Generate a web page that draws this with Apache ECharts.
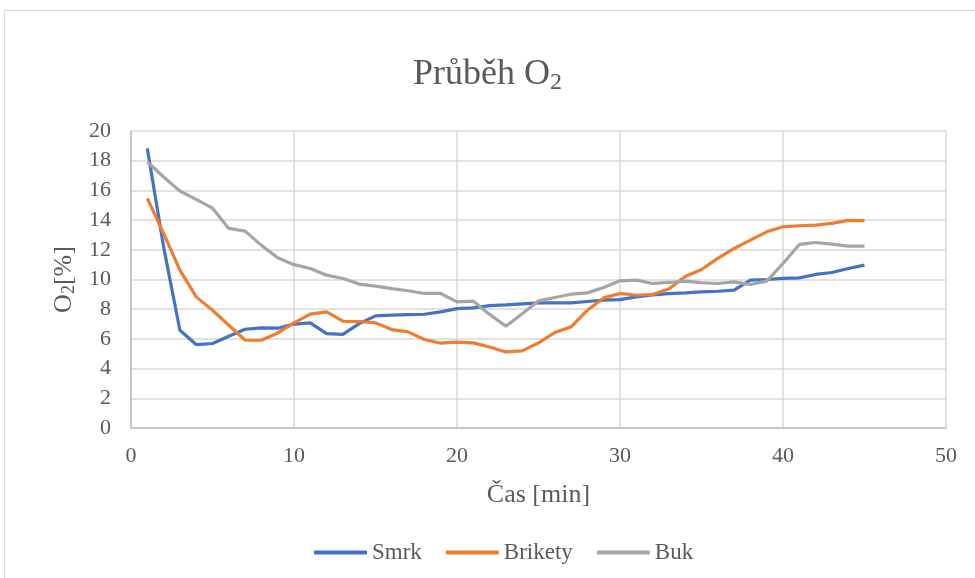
<!DOCTYPE html>
<html>
<head>
<meta charset="utf-8">
<script src="https://cdn.jsdelivr.net/npm/echarts@6/dist/echarts.min.js"></script>
<style>
html,body{margin:0;padding:0;background:#fff;}
#chart{width:975px;height:578px;}
</style>
</head>
<body>
<div id="chart"></div>
<script>
const minutes = [1,2,3,4,5,6,7,8,9,10,11,12,13,14,15,16,17,18,19,20,21,22,23,24,25,26,27,28,29,30,31,32,33,34,35,36,37,38,39,40,41,42,43,44,45];
const smrk = [18.83,12.2,6.58,5.62,5.69,6.18,6.65,6.74,6.72,7.0,7.08,6.36,6.31,7.03,7.55,7.6,7.64,7.66,7.82,8.04,8.09,8.24,8.29,8.36,8.43,8.43,8.43,8.52,8.61,8.65,8.83,8.97,9.05,9.1,9.17,9.21,9.28,9.96,10.0,10.07,10.11,10.34,10.47,10.74,10.97];
const brikety = [15.46,13.1,10.63,8.83,7.93,6.92,5.91,5.91,6.4,7.08,7.67,7.82,7.19,7.17,7.08,6.63,6.47,5.96,5.71,5.78,5.73,5.45,5.12,5.19,5.73,6.43,6.81,7.93,8.76,9.06,8.94,8.99,9.36,10.2,10.67,11.42,12.09,12.65,13.21,13.55,13.62,13.66,13.78,13.98,13.96];
const buk = [17.93,16.9,15.96,15.4,14.8,13.44,13.26,12.3,11.46,11.0,10.74,10.29,10.07,9.69,9.55,9.39,9.24,9.06,9.06,8.49,8.54,7.65,6.85,7.7,8.56,8.79,9.01,9.1,9.46,9.91,9.96,9.73,9.8,9.89,9.78,9.73,9.84,9.66,9.89,11.08,12.36,12.49,12.38,12.25,12.25];
const seriesNames = ['Smrk','Brikety','Buk'];
const xTicks = [0,10,20,30,40,50];
const yTicks = [0,2,4,6,8,10,12,14,16,18,20];

const FONT = '"Liberation Serif","Times New Roman",serif';
const TXT = '#595959';
const pairs = arr => minutes.map((m,i)=>[m,arr[i]]);

const chart = echarts.init(document.getElementById('chart'), null, {renderer:'canvas'});
chart.setOption({
  animation:false,
  backgroundColor:'#ffffff',
  color:['#4472C4','#ED7D31','#A5A5A5'],
  graphic:[{
    type:'rect', silent:true,
    shape:{x:4.5,y:10.5,width:1000,height:600},
    style:{fill:'none',stroke:'#d9d9d9',lineWidth:1}
  }],
  title:{
    text:'{a|Průběh O}{b|2}',
    left:'center', top:50,
    textStyle:{
      fontWeight:'normal',
      rich:{
        a:{fontFamily:FONT,fontSize:36,fontWeight:'normal',color:TXT,lineHeight:40,verticalAlign:'middle'},
        b:{fontFamily:FONT,fontSize:24,fontWeight:'normal',color:TXT,lineHeight:22,verticalAlign:'bottom'}
      }
    }
  },
  grid:{left:131,right:29,top:131,bottom:150},
  legend:{
    data:seriesNames.map(n=>({name:n,icon:'roundRect'})),
    left:309, top:536,
    itemWidth:53, itemHeight:4, itemGap:24,
    textStyle:{fontFamily:FONT,fontSize:23,color:TXT}
  },
  xAxis:{
    type:'value', min:xTicks[0], max:xTicks[xTicks.length-1], interval:10,
    name:'Čas [min]', nameLocation:'middle', nameGap:54,
    nameTextStyle:{fontFamily:FONT,fontSize:26,color:TXT},
    axisLine:{show:true,lineStyle:{color:'#bfbfbf',width:1.5}},
    axisTick:{show:false},
    axisLabel:{fontFamily:FONT,fontSize:22,color:TXT,margin:17},
    splitLine:{show:true,lineStyle:{color:'#d9d9d9',width:1.5}}
  },
  yAxis:{
    type:'value', min:yTicks[0], max:yTicks[yTicks.length-1], interval:2,
    name:'{a|O}{b|2}{a|[%]}', nameLocation:'middle', nameGap:52, nameRotate:90,
    nameTextStyle:{
      rich:{
        a:{fontFamily:FONT,fontSize:26,color:TXT,lineHeight:28,verticalAlign:'middle'},
        b:{fontFamily:FONT,fontSize:18,color:TXT,lineHeight:16,verticalAlign:'bottom'}
      }
    },
    axisLine:{show:true,lineStyle:{color:'#bfbfbf',width:1.5}},
    axisTick:{show:false},
    axisLabel:{fontFamily:FONT,fontSize:22,color:TXT,margin:20},
    splitLine:{show:true,lineStyle:{color:'#d9d9d9',width:1.5}}
  },
  series:[
    {name:seriesNames[0],type:'line',data:pairs(smrk),symbol:'none',lineStyle:{width:3.2,color:'#4472C4'}},
    {name:seriesNames[1],type:'line',data:pairs(brikety),symbol:'none',lineStyle:{width:3.2,color:'#ED7D31'}},
    {name:seriesNames[2],type:'line',data:pairs(buk),symbol:'none',lineStyle:{width:3.2,color:'#A5A5A5'}}
  ]
});
</script>
</body>
</html>
